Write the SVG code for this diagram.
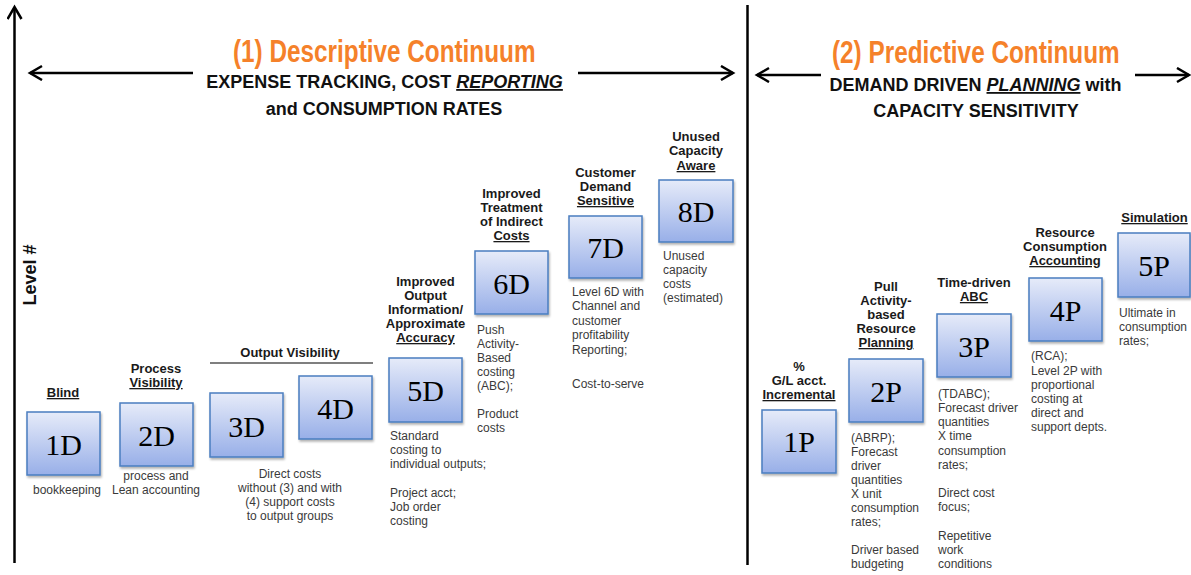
<svg xmlns="http://www.w3.org/2000/svg" width="1191" height="575" viewBox="0 0 1191 575">
<style>
.title{font-family:"Liberation Sans",Arial,sans-serif;font-weight:bold;font-size:32px;fill:#F5812A}
.sub{font-family:"Liberation Sans",Arial,sans-serif;font-weight:bold;font-size:18px;fill:#111;text-anchor:middle}
.lbl{font-family:"Liberation Sans",Arial,sans-serif;font-weight:bold;font-size:13px;fill:#1a1a1a;text-anchor:middle}
.desc{font-family:"Liberation Sans",Arial,sans-serif;font-size:12px;fill:#3a3a3a}
.mid{text-anchor:middle}
.num{font-family:"Liberation Serif","Times New Roman",serif;font-size:30px;fill:#000;text-anchor:middle}
.box{fill:url(#bg);stroke:#4A7EC0;stroke-width:1.5;filter:url(#sh)}
.u{text-decoration:underline}
.it{font-style:italic}
.ax{stroke:#000;stroke-width:2.5;fill:none}
</style>
<defs>
<linearGradient id="bg" x1="0" y1="0" x2="0" y2="1">
<stop offset="0" stop-color="#E6EBF9"/>
<stop offset="1" stop-color="#98AFE8"/>
</linearGradient>
<filter id="sh" x="-10%" y="-10%" width="130%" height="130%">
<feDropShadow dx="1" dy="2" stdDeviation="1.2" flood-color="#000" flood-opacity="0.3"/>
</filter>
<marker id="arr" markerUnits="userSpaceOnUse" markerWidth="18" markerHeight="18" refX="14" refY="8" orient="auto">
<path d="M2,1 L14,8 L2,15" fill="none" stroke="#000" stroke-width="2.5"/>
</marker>
</defs>
<rect width="1191" height="575" fill="#fff"/>

<g id="connectors">
<line class="ax" x1="14.5" y1="563" x2="14.5" y2="7" marker-end="url(#arr)"/>
<line class="ax" x1="747.5" y1="5" x2="747.5" y2="565" stroke-width="3"/>
<line class="ax" x1="193" y1="73" x2="30" y2="73" marker-end="url(#arr)"/>
<line class="ax" x1="578" y1="73" x2="733" y2="73" marker-end="url(#arr)"/>
<line class="ax" x1="821" y1="75" x2="757" y2="75" marker-end="url(#arr)"/>
<line class="ax" x1="1135" y1="75" x2="1189" y2="75" marker-end="url(#arr)"/>
</g>

<g id="headers">
<text class="title" transform="translate(233,62) scale(0.76,1)" x="0" y="0">(1) Descriptive Continuum</text>
<text class="sub" x="384.5" y="88">EXPENSE TRACKING, COST <tspan class="it u">REPORTING</tspan></text>
<text class="sub" x="384" y="115">and CONSUMPTION RATES</text>
<text class="title" transform="translate(832,63) scale(0.76,1)" x="0" y="0">(2) Predictive Continuum</text>
<text class="sub" x="975.5" y="91">DEMAND DRIVEN <tspan class="it u">PLANNING</tspan> with</text>
<text class="sub" x="976" y="117">CAPACITY SENSITIVITY</text>
<text class="sub" transform="translate(36,275) rotate(-90)" x="0" y="0">Level #</text>
</g>

<g id="n1D">
<text class="lbl" x="63" y="397"><tspan class="u">Blind</tspan></text>
<rect class="box" x="27" y="412" width="73" height="63"/>
<text class="num" x="63.5" y="455">1D</text>
<text class="desc mid" x="67" y="494">bookkeeping</text>
</g>

<g id="n2D">
<text class="lbl"><tspan x="156" y="373">Process</tspan><tspan x="156" y="387" class="u">Visibility</tspan></text>
<rect class="box" x="120" y="403" width="73" height="63"/>
<text class="num" x="156.5" y="446">2D</text>
<text class="desc mid"><tspan x="156" y="480">process and</tspan><tspan x="156" y="494">Lean accounting</tspan></text>
</g>

<g id="output-visibility">
<text class="lbl" x="290" y="357">Output Visibility</text>
<line x1="210" y1="363" x2="373" y2="363" stroke="#555" stroke-width="1.5"/>
<text class="desc mid"><tspan x="290" y="478">Direct costs</tspan><tspan x="290" y="492">without (3) and with</tspan><tspan x="290" y="506">(4) support costs</tspan><tspan x="290" y="520">to output groups</tspan></text>
</g>

<g id="n3D">
<rect class="box" x="210" y="393" width="73" height="64"/>
<text class="num" x="246.5" y="437">3D</text>
</g>

<g id="n4D">
<rect class="box" x="299" y="376" width="73" height="63"/>
<text class="num" x="335.5" y="419">4D</text>
</g>

<g id="n5D">
<text class="lbl"><tspan x="425.5" y="286">Improved</tspan><tspan x="425.5" y="300">Output</tspan><tspan x="425.5" y="314">Information/</tspan><tspan x="425.5" y="328">Approximate</tspan><tspan x="425.5" y="342" class="u">Accuracy</tspan></text>
<rect class="box" x="389" y="358" width="73" height="64"/>
<text class="num" x="425.5" y="401">5D</text>
<text class="desc"><tspan x="390" y="440">Standard</tspan><tspan x="390" y="454">costing to</tspan><tspan x="390" y="468">individual outputs;</tspan><tspan x="390" y="497">Project acct;</tspan><tspan x="390" y="511">Job order</tspan><tspan x="390" y="525">costing</tspan></text>
</g>

<g id="n6D">
<text class="lbl"><tspan x="511.5" y="198">Improved</tspan><tspan x="511.5" y="212">Treatment</tspan><tspan x="511.5" y="226">of Indirect</tspan><tspan x="511.5" y="240" class="u">Costs</tspan></text>
<rect class="box" x="475" y="251" width="73" height="63"/>
<text class="num" x="511.5" y="294">6D</text>
<text class="desc"><tspan x="477" y="334">Push</tspan><tspan x="477" y="348">Activity-</tspan><tspan x="477" y="362">Based</tspan><tspan x="477" y="376">costing</tspan><tspan x="477" y="390">(ABC);</tspan><tspan x="477" y="418">Product</tspan><tspan x="477" y="432">costs</tspan></text>
</g>

<g id="n7D">
<text class="lbl"><tspan x="605.5" y="177">Customer</tspan><tspan x="605.5" y="191">Demand</tspan><tspan x="605.5" y="205" class="u">Sensitive</tspan></text>
<rect class="box" x="569" y="216" width="73" height="62"/>
<text class="num" x="605.5" y="258">7D</text>
<text class="desc"><tspan x="572" y="296">Level 6D with</tspan><tspan x="572" y="310">Channel and</tspan><tspan x="572" y="325">customer</tspan><tspan x="572" y="339">profitability</tspan><tspan x="572" y="354">Reporting;</tspan><tspan x="572" y="388">Cost-to-serve</tspan></text>
</g>

<g id="n8D">
<text class="lbl"><tspan x="696" y="141">Unused</tspan><tspan x="696" y="155">Capacity</tspan><tspan x="696" y="170" class="u">Aware</tspan></text>
<rect class="box" x="659" y="180" width="74" height="62"/>
<text class="num" x="696" y="222">8D</text>
<text class="desc"><tspan x="663" y="260">Unused</tspan><tspan x="663" y="274">capacity</tspan><tspan x="663" y="288">costs</tspan><tspan x="663" y="302">(estimated)</tspan></text>
</g>

<g id="n1P">
<text class="lbl"><tspan x="799" y="371">%</tspan><tspan x="799" y="385">G/L acct.</tspan><tspan x="799" y="399" class="u">Incremental</tspan></text>
<rect class="box" x="762" y="410" width="74" height="63"/>
<text class="num" x="799" y="452">1P</text>
</g>

<g id="n2P">
<text class="lbl"><tspan x="886" y="291">Pull</tspan><tspan x="886" y="305">Activity-</tspan><tspan x="886" y="319">based</tspan><tspan x="886" y="333">Resource</tspan><tspan x="886" y="347" class="u">Planning</tspan></text>
<rect class="box" x="849" y="359" width="74" height="63"/>
<text class="num" x="886" y="402">2P</text>
<text class="desc"><tspan x="851" y="442">(ABRP);</tspan><tspan x="851" y="456">Forecast</tspan><tspan x="851" y="470">driver</tspan><tspan x="851" y="484">quantities</tspan><tspan x="851" y="498">X unit</tspan><tspan x="851" y="512">consumption</tspan><tspan x="851" y="526">rates;</tspan><tspan x="851" y="554">Driver based</tspan><tspan x="851" y="568">budgeting</tspan></text>
</g>

<g id="n3P">
<text class="lbl"><tspan x="974" y="287">Time-driven</tspan><tspan x="974" y="301" class="u">ABC</tspan></text>
<rect class="box" x="937" y="314" width="74" height="63"/>
<text class="num" x="974" y="357">3P</text>
<text class="desc"><tspan x="938" y="398">(TDABC);</tspan><tspan x="938" y="412">Forecast driver</tspan><tspan x="938" y="426">quantities</tspan><tspan x="938" y="440">X time</tspan><tspan x="938" y="455">consumption</tspan><tspan x="938" y="469">rates;</tspan><tspan x="938" y="497">Direct cost</tspan><tspan x="938" y="511">focus;</tspan><tspan x="938" y="540">Repetitive</tspan><tspan x="938" y="554">work</tspan><tspan x="938" y="568">conditions</tspan></text>
</g>

<g id="n4P">
<text class="lbl"><tspan x="1065" y="237">Resource</tspan><tspan x="1065" y="251">Consumption</tspan><tspan x="1065" y="265" class="u">Accounting</tspan></text>
<rect class="box" x="1029" y="278" width="73" height="63"/>
<text class="num" x="1065.5" y="321">4P</text>
<text class="desc"><tspan x="1031" y="360">(RCA);</tspan><tspan x="1031" y="375">Level 2P with</tspan><tspan x="1031" y="389">proportional</tspan><tspan x="1031" y="403">costing at</tspan><tspan x="1031" y="417">direct and</tspan><tspan x="1031" y="431">support depts.</tspan></text>
</g>

<g id="n5P">
<text class="lbl" x="1154.5" y="222"><tspan class="u">Simulation</tspan></text>
<rect class="box" x="1118" y="233" width="72" height="64"/>
<text class="num" x="1154" y="276">5P</text>
<text class="desc"><tspan x="1119" y="317">Ultimate in</tspan><tspan x="1119" y="331">consumption</tspan><tspan x="1119" y="345">rates;</tspan></text>
</g>
</svg>
